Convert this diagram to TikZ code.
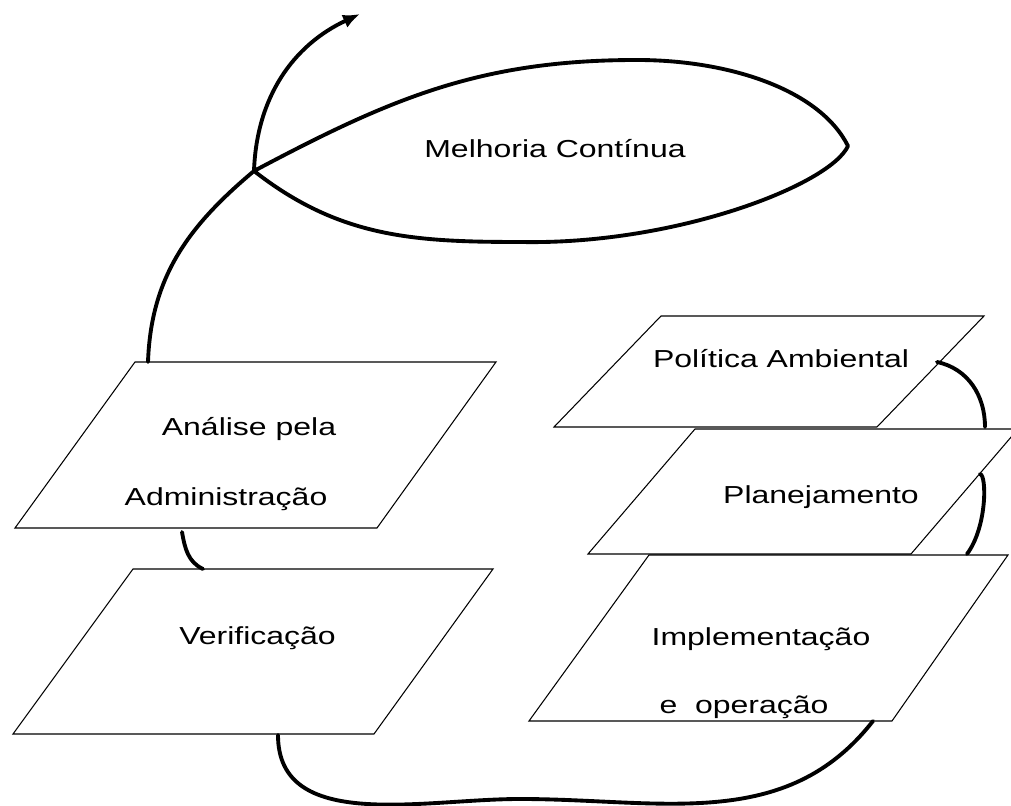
\documentclass[tikz,border=0pt]{standalone}
\usepackage{fontspec}
\setmainfont{Liberation Sans}[FakeStretch=1.3]
\usetikzlibrary{arrows.meta}

\newcommand{\scale}{1}

\begin{document}
\begin{tikzpicture}[scale = \scale,
  sheet/.style = {line width = 0.6pt},
  turn/.style = {line width = 2.2pt, line cap = round, line join = round},
  txt/.style = {anchor = base, inner sep = 0pt, font = \fontsize{14pt}{17pt}\selectfont}]

\useasboundingbox (0,0) rectangle (20.22,-16.12);

% sheets
\draw [sheet] (2.70,-7.24) -- (9.92,-7.24) -- (7.54,-10.56) -- (0.30,-10.56) -- cycle;
\draw [sheet] (2.66,-11.38) -- (9.86,-11.38) -- (7.48,-14.68) -- (0.26,-14.68) -- cycle;
\draw [sheet] (13.22,-6.32) -- (19.68,-6.32) -- (17.54,-8.54) -- (11.08,-8.54) -- cycle;
\draw [sheet] (13.90,-8.58) -- (20.36,-8.58) -- (18.22,-11.08) -- (11.76,-11.08) -- cycle;
\draw [sheet] (12.98,-11.10) -- (20.16,-11.10) -- (17.84,-14.42) -- (10.58,-14.42) -- cycle;

\node [txt] (v1) at (11.10,-3.16) {Melhoria Contínua};
\node [txt] (v2) at (4.98,-8.72) {Análise pela};
\node [txt] (v3) at (4.52,-10.12) {Administração};
\node [txt] (v4) at (5.15,-12.90) {Verificação};
\node [txt] (v5) at (15.62,-7.36) {Política Ambiental};
\node [txt] (v6) at (16.42,-10.08) {Planejamento};
\node [txt] (v7) at (15.22,-12.92) {Implementação};
\node [txt] (v8) at (14.88,-14.28) {e\ \ operação};

% loop of improvement
\coordinate (c1) at (2.96,-7.24);
\coordinate (c2) at (5.08,-3.42);
\coordinate (c3) at (12.74,-1.20);
\coordinate (c4) at (16.96,-2.92);
\coordinate (c5) at (10.42,-4.84);
\coordinate (c6) at (7.20,-0.28);
\draw [turn, -{Latex[length = 3.4mm, width = 2.8mm]}] (c1) to[out = 88, in = 220] (c2)
  to[out = 28, in = 180] (c3) .. controls (14.6,-1.2) and (16.4,-1.8) .. (c4)
  .. controls (16.6,-3.7) and (13.5,-4.9) .. (c5)
  to[out = 180, in = -38] (c2) to[out = 88, in = 205] (c6);

% links between sheets
\coordinate (c7) at (3.64,-10.64);
\coordinate (c8) at (4.06,-11.38);
\coordinate (c9) at (18.74,-7.24);
\coordinate (c10) at (19.70,-8.54);
\coordinate (c11) at (19.60,-9.48);
\coordinate (c12) at (19.34,-11.08);
\coordinate (c13) at (5.56,-14.70);
\coordinate (c14) at (10.40,-15.98);
\coordinate (c15) at (17.46,-14.42);
\draw [turn] (c7) to[out = -80, in = 155] (c8);
\draw [turn] (c9) to[out = -12, in = 90] (c10);
\draw [turn] (c11) .. controls (19.74,-9.50) and (19.74,-10.55) .. (c12);
\draw [turn] (c13) to[out = -90, in = 180] (c14) to[out = 0, in = 232] (c15);
\end{tikzpicture}
\end{document}
